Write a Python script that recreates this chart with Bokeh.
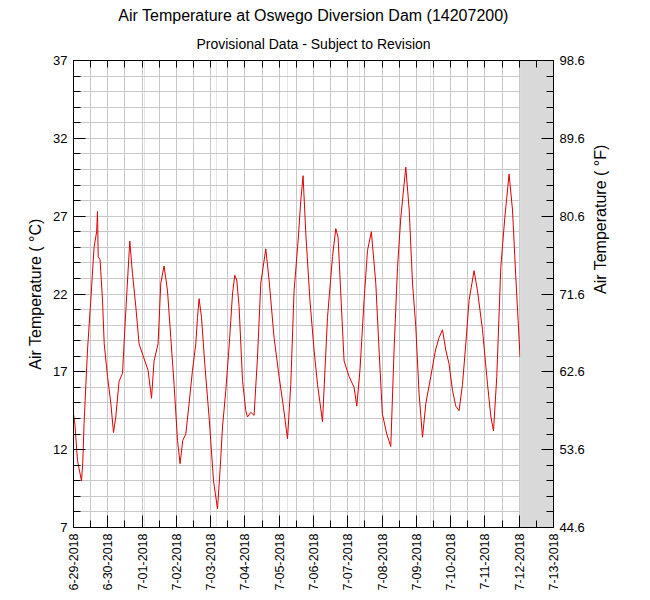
from math import pi
from bokeh.plotting import figure
from bokeh.models import (Range1d, LinearAxis, FixedTicker, Title, BoxAnnotation,
                          PrintfTickFormatter, Grid)
from bokeh.embed import file_html
from bokeh.resources import INLINE

# hours since 6-29-2018 00:00
hours = [0.0, 1.0, 2.8, 4.5, 5.6, 6.5, 7.4, 9.8, 12.1, 14.4, 16.2, 16.8, 17.3, 18.6, 20.3, 21.5, 23.8,
         26.1, 28.0, 29.6, 31.9, 34.3, 36.6, 39.4, 41.3, 43.6, 45.9, 49.0, 52.2, 54.6, 56.4, 59.2,
         61.1, 63.4, 65.8, 68.1, 70.4, 72.8, 74.6, 76.5, 78.6, 80.9, 83.3, 85.6, 86.8, 87.9, 89.6,
         91.9, 94.9, 98.0, 100.8, 102.6, 104.3, 106.6, 108.9, 111.3, 112.9, 114.3, 115.9, 118.3,
         120.6, 121.8, 124.1, 126.4, 128.8, 131.1, 134.6, 136.9, 140.4, 143.9, 147.0, 149.8, 152.1,
         154.4, 157.2, 159.1, 160.7, 162.6, 165.5, 168.4, 170.8, 174.3, 177.8, 181.3, 183.6, 185.2,
         187.1, 189.4, 192.9, 196.4, 198.3, 200.6, 203.4, 205.8, 208.5, 211.6, 213.9, 216.2, 219.3,
         222.1, 224.4, 226.8, 229.1, 232.6, 235.0, 237.3, 239.6, 241.9, 244.3, 246.6, 250.1, 253.4,
         255.9, 258.3, 260.6, 262.9, 265.3, 267.6, 269.9, 272.3, 274.7, 276.9, 280.4, 282.8, 286.3,
         289.8, 292.2, 294.0, 296.3, 299.1, 301.9, 304.9, 307.3, 309.6, 312.6]
temp_c = [14.3, 13.6, 11.3, 10.5, 10.0, 11.2, 13.7, 18.4, 21.6, 25.0, 26.0, 27.3, 24.4, 24.2, 21.6, 18.8, 16.7,
          15.0, 13.1, 14.1, 16.4, 16.9, 20.9, 25.4, 23.3, 21.2, 18.8, 17.95, 17.1, 15.3, 17.7, 18.8,
          22.7, 23.8, 22.2, 19.2, 16.2, 12.6, 11.1, 12.6, 13.0, 14.95, 17.1, 18.8, 20.5, 21.7, 20.5,
          17.5, 14.1, 10.0, 8.2, 10.7, 13.45, 15.8, 18.6, 22.0, 23.2, 22.9, 21.2, 16.45,
          14.5, 14.1, 14.4, 14.2, 17.95, 22.7, 24.9, 22.9, 19.2, 16.7, 14.7, 12.7, 16.2,
          22.2, 25.4, 28.0, 29.6, 25.9, 21.6, 18.4, 16.2, 13.8, 20.5, 24.4, 26.2, 25.65,
          22.0, 17.7, 16.7, 16.0, 14.8, 17.2, 21.6, 24.8, 26.0, 22.7, 18.4, 14.3, 13.0,
          12.2, 18.4, 23.7, 26.9, 30.15, 27.4, 22.7, 19.9, 15.6, 12.8, 14.95, 16.7, 18.4,
          19.2, 19.7, 18.4, 17.5, 15.8, 14.8, 14.5, 16.2, 18.9, 21.6, 23.5, 22.2, 19.7,
          16.2, 14.1, 13.2, 16.7, 23.7, 26.9, 29.7, 27.4, 23.1, 17.95]

day_labels = ["6-29-2018", "6-30-2018", "7-01-2018", "7-02-2018", "7-03-2018", "7-04-2018",
              "7-05-2018", "7-06-2018", "7-07-2018", "7-08-2018", "7-09-2018", "7-10-2018",
              "7-11-2018", "7-12-2018", "7-13-2018"]
c_ticks = [7, 12, 17, 22, 27, 32, 37]
f_ticks = [44.6, 53.6, 62.6, 71.6, 80.6, 89.6, 98.6]

FONT = "Liberation Sans"

day_ticks = [24 * i for i in range(len(day_labels))]
half_ticks = [24 * i + 12 for i in range(len(day_labels) - 1)]
c_minor = list(range(c_ticks[0], c_ticks[-1] + 1))

p = figure(frame_width=480, frame_height=467, output_backend="svg", toolbar_location=None,
           title=None, x_range=Range1d(day_ticks[0], day_ticks[-1]),
           y_range=Range1d(c_ticks[0], c_ticks[-1]),
           x_axis_location=None, y_axis_location=None,
           min_border_left=73, min_border_right=89, min_border_top=60, min_border_bottom=62)
p.extra_y_ranges = {"f": Range1d(f_ticks[0], f_ticks[-1])}
p.outline_line_color = "black"
p.background_fill_color = "white"
p.border_fill_color = "white"

xticker = FixedTicker(ticks=day_ticks, minor_ticks=half_ticks)
yticker = FixedTicker(ticks=c_ticks, minor_ticks=c_minor)
fticker = FixedTicker(ticks=f_ticks, minor_ticks=[f_ticks[0] + 1.8 * i for i in range(31)])

p.add_layout(Grid(dimension=0, ticker=xticker, grid_line_color="#c8c8c8",
                  minor_grid_line_color="#c8c8c8"))
p.add_layout(Grid(dimension=1, ticker=yticker, grid_line_color="#c8c8c8",
                  minor_grid_line_color="#c8c8c8"))

p.add_layout(BoxAnnotation(left=hours[-1], fill_color="#d9d9d9", fill_alpha=1.0,
                           line_color=None, level="glyph"))

p.line(hours, temp_c, line_color="#dd0000", line_width=1)


def style(ax, major_in=12, minor_in=7):
    ax.major_tick_in = major_in
    ax.major_tick_out = 0
    ax.minor_tick_in = minor_in
    ax.minor_tick_out = 0
    ax.axis_line_color = "black"
    ax.major_tick_line_color = "black"
    ax.minor_tick_line_color = "black"
    ax.major_label_text_font = FONT
    ax.major_label_text_font_size = "13px"
    ax.major_label_text_color = "black"
    ax.axis_label_text_font = FONT
    ax.axis_label_text_font_size = "16px"
    ax.axis_label_text_font_style = "normal"
    ax.axis_label_text_color = "black"


bottom = LinearAxis(ticker=xticker, major_label_overrides={t: l for t, l in zip(day_ticks, day_labels)},
                    major_label_orientation=pi / 2, major_label_standoff=6)
style(bottom)
bottom.major_label_text_font_size = "12.5px"
p.add_layout(bottom, "below")

left = LinearAxis(ticker=yticker, axis_label="Air Temperature ( \u00b0C)",
                  major_label_standoff=6, axis_label_standoff=6)
style(left)
p.add_layout(left, "left")

right = LinearAxis(y_range_name="f", ticker=fticker, formatter=PrintfTickFormatter(format="%.1f"),
                   axis_label="Air Temperature ( \u00b0F)", major_label_standoff=6,
                   axis_label_standoff=13, axis_label_orientation=pi / 2)
style(right)
p.add_layout(right, "right")

top = LinearAxis(ticker=xticker, major_label_overrides={t: "" for t in day_ticks})
style(top, 7, 7)
top.major_label_standoff = 0
p.add_layout(top, "above")

p.add_layout(Title(text="Provisional Data - Subject to Revision", text_font=FONT,
                   text_font_size="14px", text_font_style="normal", align="center",
                   text_color="black", standoff=18), "above")
p.add_layout(Title(text="Air Temperature at Oswego Diversion Dam (14207200)", text_font=FONT,
                   text_font_size="16px", text_font_style="normal", align="center",
                   text_color="black", standoff=1), "above")

open("out.html", "w").write(file_html(p, INLINE))
